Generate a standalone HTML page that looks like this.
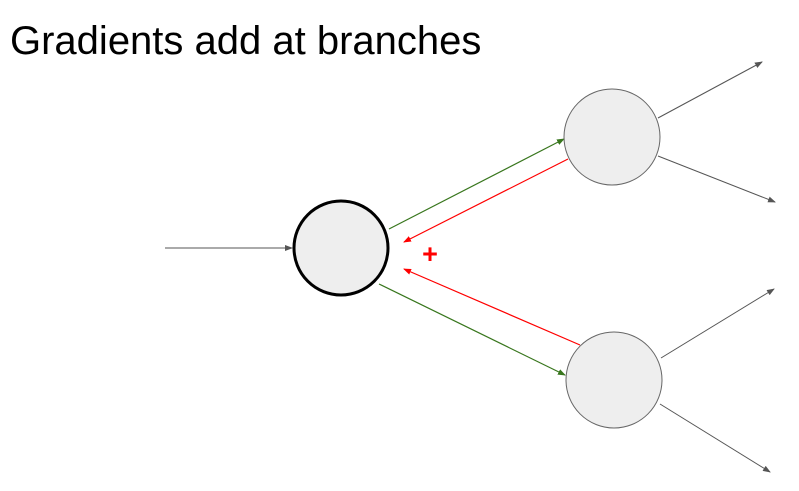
<!DOCTYPE html>
<html><head><style>
body{margin:0;width:799px;height:486px;background:#fff;overflow:hidden;font-family:"Liberation Sans",sans-serif}
</style></head><body>
<svg width="799" height="486" xmlns="http://www.w3.org/2000/svg">
<defs>
<marker id="ag" markerWidth="8" markerHeight="6" refX="7" refY="3" orient="auto" markerUnits="userSpaceOnUse"><path d="M0,0 L8,3 L0,6z" fill="#555"/></marker>
<marker id="agr" markerWidth="8" markerHeight="6" refX="7" refY="3" orient="auto" markerUnits="userSpaceOnUse"><path d="M0,0 L8,3 L0,6z" fill="#38761d"/></marker>
<marker id="ar" markerWidth="8" markerHeight="6" refX="7" refY="3" orient="auto" markerUnits="userSpaceOnUse"><path d="M0,0 L8,3 L0,6z" fill="#f00"/></marker>
</defs>
<text x="10" y="54" font-size="40" fill="#000" font-family="Liberation Sans,sans-serif">Gradients add at branches</text>
<g stroke="#555" stroke-width="1" fill="none">
<line x1="165" y1="248" x2="292" y2="248" marker-end="url(#ag)"/>
<line x1="658" y1="118" x2="762" y2="62" marker-end="url(#ag)"/>
<line x1="658" y1="156" x2="775" y2="202" marker-end="url(#ag)"/>
<line x1="661" y1="358" x2="774" y2="289" marker-end="url(#ag)"/>
<line x1="660" y1="404" x2="770" y2="472" marker-end="url(#ag)"/>
</g>
<line x1="389" y1="229" x2="564" y2="139" stroke="#38761d" stroke-width="1.2" marker-end="url(#agr)"/>
<line x1="379" y1="284" x2="565" y2="375" stroke="#38761d" stroke-width="1.2" marker-end="url(#agr)"/>
<line x1="568" y1="159" x2="404" y2="242" stroke="#f00" stroke-width="1.2" marker-end="url(#ar)"/>
<line x1="580" y1="345" x2="404" y2="269" stroke="#f00" stroke-width="1.2" marker-end="url(#ar)"/>
<circle cx="341" cy="248" r="47" fill="#eee" stroke="#000" stroke-width="3"/>
<circle cx="612" cy="137" r="48" fill="#eee" stroke="#666" stroke-width="1"/>
<circle cx="614" cy="380" r="48" fill="#eee" stroke="#666" stroke-width="1"/>
<text x="430" y="263" font-size="27" font-weight="bold" fill="#f00" text-anchor="middle">+</text>
</svg>
</body></html>
